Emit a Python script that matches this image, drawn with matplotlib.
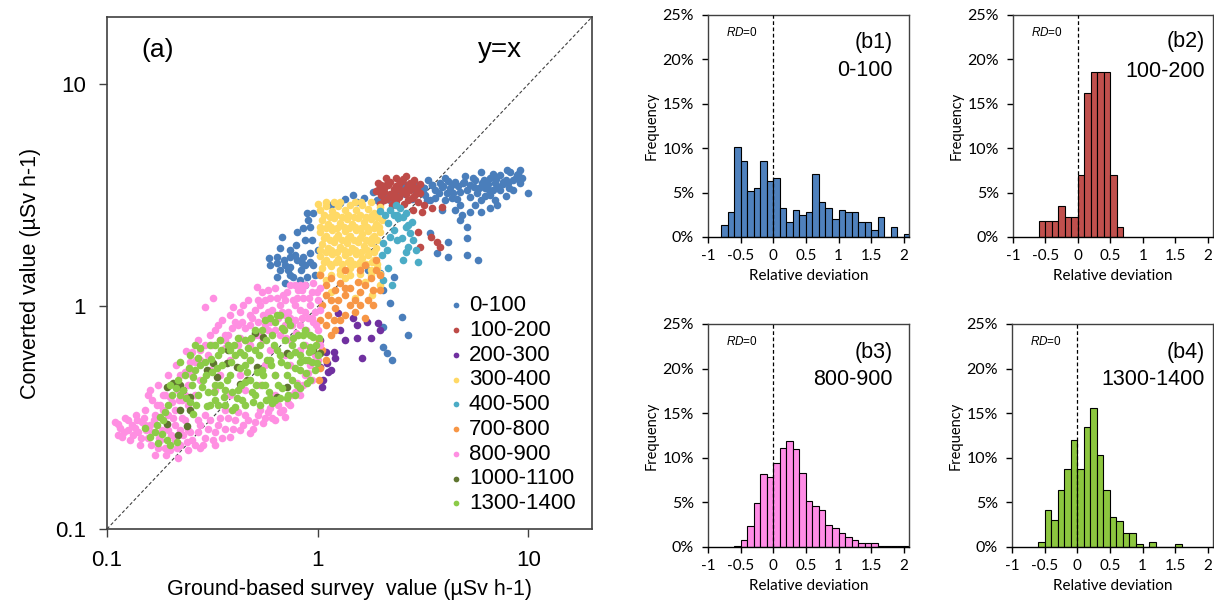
import matplotlib
matplotlib.use("Agg")
import matplotlib.pyplot as plt
from matplotlib.ticker import FixedLocator, NullLocator, FuncFormatter

plt.rcParams['font.family'] = ['Liberation Sans', 'DejaVu Sans']
plt.rcParams['mathtext.fontset'] = 'custom'
plt.rcParams['mathtext.it'] = 'Liberation Sans:italic'
plt.rcParams['mathtext.rm'] = 'Liberation Sans'

# ---- scatter (a): (ground-based, converted) in uSv/h ----
pts_0_100 = [(3.07,3.52),(3.35,3.70),(3.62,3.34),(3.82,3.60),(4.03,3.78),(4.26,3.41),(4.50,3.63),(4.75,3.27),
             (5.02,3.86),(5.30,3.52),(5.60,3.70),(5.92,4.02),(6.25,3.41),(6.60,3.78),(6.97,3.60),(7.36,3.90),
             (7.78,3.70),(8.21,4.02),(8.68,3.78),(9.16,3.60),(7.36,3.34),(6.60,3.17),(5.30,3.11),(5.92,3.01),
             (4.75,2.86),(4.50,2.72),(4.03,3.01),(3.62,3.07),(3.24,3.17),(2.91,3.27),(2.75,3.41),(2.61,3.52),
             (2.47,3.34),(2.34,3.24),(5.30,2.66),(4.85,2.58),(9.16,4.11),(10.0,3.24),(8.40,3.34),(7.78,3.14),
             (3.2,3.4),(3.5,3.5),(3.9,3.45),(4.4,3.55),(4.9,3.6),(5.5,3.45),(6.0,3.6),(6.4,3.55),(7.0,3.75),
             (7.6,3.55),(8.0,3.6),(8.9,3.95),(4.1,3.25),(5.7,3.25),(6.8,3.35),(3.3,3.0),(4.6,3.05),(2.8,3.05),(2.6,3.2),
             (3.18,3.41),(3.50,3.52),(3.75,3.24),(3.95,3.48),(4.17,3.67),(4.40,3.24),(4.65,3.48),(4.92,3.63),
             (5.10,3.34),(5.48,3.78),(5.80,3.41),(6.12,3.70),(6.47,3.34),(6.80,3.95),(7.12,3.48),(7.61,3.63),
             (7.94,4.11),(8.40,3.70),(8.86,3.90),(9.36,3.78),(8.05,3.41),(6.97,3.01),(6.25,3.14),(5.60,2.86),
             (4.35,3.07),(3.90,2.72),(3.42,3.01),(2.91,3.52),
             (4.75,2.45),(5.10,2.28),(5.10,2.03),(5.10,1.70),(5.75,1.62),(4.17,1.67),(3.70,1.74),(4.17,1.95),
             (3.42,2.14),(5.92,2.66),(6.60,2.77),(7.12,2.86),
             (1.28,2.92),(1.47,3.17),(1.65,3.07),(1.83,3.27),(1.92,3.01),(1.54,2.95),(1.35,3.04),(1.15,2.86),
             (2.09,3.14),(2.34,3.34),(2.47,3.48),(2.21,3.01),
             (0.89,2.63),(0.95,2.63),(0.90,2.45),(0.85,2.25),(0.68,2.05),(0.64,1.67),(0.69,1.62),(0.74,1.80),
             (0.80,1.62),(0.85,1.67),(0.92,1.74),(0.74,1.51),(0.83,1.46),(0.64,1.36),(0.76,1.36),(0.89,1.36),
             (0.64,1.57),(0.74,1.67),(0.94,1.99),(0.92,2.28),(0.59,1.65),(0.72,1.46),(0.84,1.57),(0.95,1.54),
             (1.00,1.80),(0.66,1.83),(0.79,1.89),(0.70,1.27),(0.87,1.25),(0.97,1.39),
             (0.700,1.54),(0.782,1.70),(0.872,1.54),(0.663,1.46),(0.826,1.32),(0.740,1.39),(0.595,1.54),
             (0.921,1.59),(0.872,1.99),(0.80,2.16),
             (2.05,1.19),(2.21,1.04),(2.52,0.90),(2.69,0.745),(2.05,0.81),(2.05,0.66),(2.26,0.575),(2.14,0.62),
             (2.29,1.36),(1.98,1.41),(1.74,1.46),(2.97,3.24)]

pts_100_200 = [(1.94,3.59),(2.07,3.41),(2.21,3.63),(2.36,3.48),(2.52,3.67),(2.69,3.52),(2.87,3.70),(3.07,3.55),
               (2.00,3.17),(2.14,3.04),(2.29,3.24),(2.44,3.11),(2.61,3.20),(2.80,3.07),(2.97,3.24),(1.98,2.89),
               (2.25,2.86),(2.58,2.89),(2.36,3.78),(2.63,3.86),(2.11,3.78),(3.00,2.95),(2.07,3.27),(2.75,3.34),
               (2.15,3.5),(2.45,3.35),(2.75,3.6),(2.3,3.05),(2.9,3.4),(1.9,3.3),(2.55,3.75),(2.0,3.5),
               (2.00,3.41),(2.14,3.55),(2.29,3.37),(2.44,3.55),(2.61,3.37),(2.80,3.55),(2.97,3.41),(2.07,3.01),
               (2.36,2.98),(2.69,3.01),(2.87,3.14),(2.52,3.27),(2.21,3.20),(1.94,3.34),(3.07,3.24),
               (2.83,2.72),(3.13,2.66),(3.50,2.77),(3.90,2.80),(3.00,2.17),(3.07,1.85),(3.70,1.95),(3.82,1.85),
               (3.46,2.05),(3.18,2.86)]

pts_200_300 = [(1.25,0.935),(1.47,0.888),(1.54,0.826),(1.72,0.852),(1.94,0.843),(1.28,0.784),(1.35,0.707),
               (1.54,0.722),(1.78,0.722),(1.63,0.587),(1.03,0.707),(1.09,0.625),(1.19,0.625),(1.03,0.535),
               (1.11,0.557),(1.15,0.518),(1.06,0.467),(1.05,0.434),(1.12,0.508),(1.21,0.587),(1.98,0.784)]

pts_300_400 = [(1.03,2.72),(1.10,2.83),(1.17,2.69),(1.25,2.83),(1.34,2.72),(1.43,2.86),(1.52,2.72),(1.63,2.86),
               (1.74,2.75),(1.85,2.63),(1.98,2.80),(1.0,2.9),(1.2,2.95),(1.6,2.95),
               (1.09,2.95),(1.28,2.95),(1.51,2.95),(1.78,2.95),
               (1.07,2.58),(1.14,2.53),(1.22,2.58),(1.30,2.53),(1.39,2.58),(1.48,2.53),(1.58,2.58),(1.69,2.53),
               (1.80,2.58),(1.92,2.53),
               (1.05,2.45),(1.12,2.35),(1.20,2.50),(1.28,2.37),(1.37,2.47),(1.45,2.35),(1.56,2.50),(1.66,2.40),
               (1.78,2.47),(1.89,2.35),(2.02,2.45),
               (1.02,2.28),(1.09,2.25),(1.16,2.28),(1.24,2.25),(1.33,2.28),(1.41,2.25),(1.51,2.28),(1.61,2.25),
               (1.72,2.28),(1.84,2.25),(1.96,2.28),
               (1.03,2.16),(1.10,2.07),(1.17,2.21),(1.25,2.10),(1.34,2.19),(1.43,2.07),(1.52,2.21),(1.63,2.12),
               (1.74,2.19),(1.85,2.07),(1.98,2.16),
               (1.07,2.03),(1.14,1.99),(1.22,2.03),(1.30,1.99),(1.39,2.03),(1.48,1.99),(1.58,2.03),(1.69,1.99),
               (1.80,2.03),(1.92,1.99),
               (1.05,1.91),(1.12,1.83),(1.20,1.95),(1.28,1.85),(1.37,1.93),(1.45,1.83),(1.56,1.95),(1.66,1.87),
               (1.78,1.93),(1.89,1.83),
               (1.02,1.80),(1.09,1.76),(1.16,1.80),(1.24,1.76),(1.33,1.80),(1.41,1.76),(1.51,1.80),(1.61,1.76),
               (1.72,1.80),(1.84,1.76),
               (1.03,1.69),(1.10,1.62),(1.17,1.72),(1.25,1.63),(1.34,1.70),(1.43,1.62),(1.52,1.72),(1.63,1.65),
               (1.74,1.70),(1.85,1.62),
               (1.07,1.59),(1.14,1.55),(1.22,1.59),(1.30,1.55),(1.39,1.59),(1.48,1.55),(1.58,1.59),(1.69,1.55),
               (1.80,1.59),(1.92,1.55),
               (1.05,1.49),(1.15,1.52),(1.28,1.46),(1.43,1.49),(1.59,1.52),(1.78,1.46),(1.91,1.49),
               (1.03,1.40),(1.15,1.38),(1.28,1.40),(1.43,1.38),(1.59,1.40),(1.78,1.38),(1.98,1.40),
               (1.09,1.32),(1.35,1.34),(1.68,1.29),(1.98,1.25),(1.80,1.13),(1.51,1.09),(1.15,1.16)]

pts_400_500 = [(1.98,2.69),(2.21,2.72),(2.47,2.78),(2.63,2.63),(2.41,2.50),(2.16,2.38),(2.29,2.21),(2.61,2.28),
               (2.80,2.40),(2.75,2.14),(2.52,2.03),(2.21,2.05),(2.05,1.93),(2.69,1.85),(2.91,1.80),(2.61,1.76),
               (3.00,1.59),(2.14,1.80),(2.02,1.70),(2.16,1.49),(2.26,1.25),(2.05,1.32),(2.39,2.58),(2.55,2.53),
               (2.34,2.86),(2.09,2.58),(2.29,2.58),(2.69,2.32),(2.39,1.99),(2.83,1.99),(2.55,1.62)]

pts_700_800 = [(1.03,1.39),(1.09,1.25),(1.15,1.34),(1.21,1.19),(1.28,1.27),(1.35,1.13),(1.43,1.21),(1.51,1.07),
               (1.59,1.16),(1.68,1.25),(1.78,1.34),(1.88,1.46),(1.98,1.39),(1.59,1.46),(1.35,1.46),(1.15,1.07),
               (1.05,1.02),(1.12,0.916),(1.21,0.985),(1.28,0.870),(1.09,0.826),(1.15,0.745),(1.35,0.916),
               (1.51,0.945),(1.68,0.888),(1.82,1.016),(1.98,1.19),(1.74,1.07),(1.03,0.870),(1.01,0.707),
               (1.05,0.638),(1.03,0.529),(1.01,0.467),(1.09,0.575),(1.21,0.784),(1.88,1.62),(1.68,1.54),
               (1.09,1.13),(1.25,1.07),(1.43,1.02),(1.59,1.02),(1.35,1.21),(1.19,0.870),(1.56,1.29),(1.82,1.19)]

pts_800_900 = [(0.109,0.303),(0.115,0.285),(0.113,0.265),(0.122,0.315),(0.126,0.279),(0.131,0.293),(0.129,0.251),
               (0.137,0.325),(0.140,0.273),(0.146,0.303),(0.144,0.239),(0.152,0.343),(0.156,0.256),(0.160,0.293),
               (0.164,0.380),(0.169,0.325),(0.175,0.231),(0.179,0.361),(0.182,0.279),(0.189,0.400),(0.195,0.325),
               (0.199,0.227),(0.204,0.372),(0.210,0.293),(0.217,0.421),(0.222,0.239),(0.191,0.215),(0.169,0.215),
               (0.235,0.508),(0.227,0.380),(0.243,0.444),(0.217,0.208),
               (0.118,0.258),(0.136,0.285),(0.152,0.293),(0.164,0.273),(0.179,0.251),(0.195,0.279),(0.210,0.343),
               (0.227,0.315),(0.243,0.361),(0.253,0.492),(0.264,0.575),(0.248,0.565),(0.237,0.630),
               (0.160,0.421),(0.175,0.444),(0.195,0.492),(0.212,0.546),(0.156,0.400),
               (0.113,0.296),(0.121,0.273),(0.126,0.309),(0.133,0.265),(0.139,0.309),(0.145,0.256),(0.150,0.315),
               (0.154,0.279),(0.162,0.239),(0.167,0.309),(0.173,0.361),(0.177,0.256),(0.184,0.343),(0.189,0.231),
               (0.193,0.297),(0.202,0.265),(0.206,0.315),(0.214,0.231),(0.219,0.380),(0.230,0.265),(0.235,0.400),
               (0.240,0.246),(0.184,0.400),(0.199,0.393),(0.222,0.492),
               (0.292,0.995),(0.319,1.092),(0.397,0.995),(0.516,1.224),(0.326,0.784),(0.352,0.870),(0.376,0.745),
               (0.406,0.852),(0.428,0.945),(0.452,0.800),(0.467,1.070),(0.488,0.888),(0.505,0.745),(0.533,1.016),
               (0.545,1.162),(0.563,0.826),(0.581,0.945),(0.595,1.092),(0.628,1.211),(0.650,0.888),(0.663,1.016),
               (0.685,1.126),(0.700,0.826),(0.724,0.945),(0.740,1.249),(0.765,1.070),(0.782,0.870),(0.808,1.186),
               (0.826,0.965),(0.853,1.092),(0.872,1.249),(0.902,0.888),(0.921,1.016),(0.942,1.162),(0.973,0.945),
               (1.006,1.070),(1.028,1.211),(0.984,0.826),(0.882,0.784),(0.790,0.760),(0.708,0.722),(0.551,0.707),
               (0.478,0.671),(0.419,0.671),(0.364,0.651),(0.315,0.671),(0.277,0.638),(0.262,0.564),(0.248,0.518),
               (0.271,0.707),(0.302,0.605),(0.344,0.707),
               (0.364,0.745),(0.393,0.800),(0.437,0.852),(0.522,0.852),(0.607,0.965),(0.700,1.070),(0.782,1.016),
               (0.844,0.888),(0.942,0.888),(0.826,1.249),(0.563,1.070),(0.505,0.965),(0.452,0.707),(0.628,0.784),
               (0.756,0.826),
               (0.309,0.745),(0.337,0.826),(0.384,0.916),(0.419,0.826),(0.443,1.016),(0.478,0.916),(0.522,1.070),
               (0.551,0.916),(0.581,1.186),(0.595,0.852),(0.642,1.092),(0.678,0.945),(0.716,1.162),(0.740,0.888),
               (0.795,1.092),(0.844,1.186),(0.872,0.945),(0.911,1.092),(0.953,1.275),(0.995,1.162),(1.028,0.965),
               (0.953,0.852),(0.826,0.826),(0.663,0.745),(0.581,0.784),(0.522,0.745),(0.428,0.722),(0.364,0.707),
               (0.292,0.671),(0.277,0.575),(0.253,0.625),(0.478,0.826),(0.700,0.916),(0.782,1.249),
               (0.235,0.309),(0.248,0.274),(0.262,0.239),(0.277,0.293),(0.292,0.257),(0.309,0.309),(0.326,0.274),
               (0.344,0.315),(0.364,0.282),(0.384,0.259),(0.406,0.309),(0.428,0.279),(0.452,0.325),(0.478,0.270),
               (0.505,0.303),(0.533,0.343),(0.551,0.300),(0.581,0.336),(0.607,0.315),(0.650,0.361),(0.700,0.318),
               (0.724,0.368),(0.756,0.400),(0.795,0.453),(0.826,0.400),(0.872,0.492),(0.921,0.546),(0.973,0.605),
               (1.028,0.671),(1.006,0.784),(0.222,0.279),(0.210,0.251),(0.243,0.227),(0.277,0.231),(0.326,0.239),
               (0.685,0.343),(0.628,0.400),
               (0.253,0.251),(0.271,0.274),(0.285,0.239),(0.302,0.282),(0.319,0.251),(0.337,0.293),(0.352,0.256),
               (0.376,0.315),(0.397,0.282),(0.419,0.336),(0.443,0.293),(0.467,0.309),(0.494,0.282),(0.522,0.325),
               (0.563,0.315),(0.595,0.350),(0.628,0.309),(0.663,0.336),(0.740,0.361),(0.782,0.413),(0.853,0.444),
               (0.902,0.502),(0.942,0.467),(1.006,0.575),(0.271,0.309),(0.243,0.279),(0.292,0.325),(0.364,0.343),
               (0.277,0.467),(0.326,0.421),(0.384,0.400),(0.452,0.421),(0.533,0.444),(0.628,0.492),(0.740,0.546),
               (0.826,0.638),(0.384,0.575),(0.478,0.575),(0.595,0.638),(0.740,0.707),(0.309,0.518),(0.262,0.400),
               (0.344,0.492),(0.428,0.492),(0.563,0.546),(0.700,0.605),(0.872,0.671)]

pts_1000_1100 = [(0.193,0.434),(0.206,0.453),(0.222,0.444),(0.230,0.421),(0.248,0.393),(0.222,0.343),(0.240,0.290),
                 (0.217,0.265),(0.298,0.518),(0.319,0.557),(0.371,0.557),(0.414,0.536),(0.462,0.467),(0.516,0.536),
                 (0.551,0.729),(0.505,0.760),(0.642,0.393),(0.428,0.449),(0.376,0.638),(0.333,0.483),(0.248,0.343),
                 (0.953,0.638),(1.028,0.619),(0.716,0.434),(0.193,0.297),(0.716,0.619)]

pts_1300_1400 = [(0.222,0.564),(0.235,0.492),(0.248,0.605),(0.253,0.444),(0.262,0.518),(0.271,0.400),(0.277,0.651),
                 (0.285,0.467),(0.292,0.564),(0.302,0.413),(0.309,0.671),(0.315,0.508),(0.326,0.380),(0.337,0.605),
                 (0.344,0.444),(0.352,0.546),(0.364,0.361),(0.376,0.671),(0.384,0.492),(0.393,0.413),(0.406,0.605),
                 (0.419,0.722),(0.428,0.529),(0.437,0.380),(0.452,0.458),(0.467,0.651),(0.478,0.575),(0.488,0.413),
                 (0.505,0.784),(0.516,0.508),(0.533,0.671),(0.545,0.444),(0.563,0.870),(0.575,0.575),(0.595,0.388),
                 (0.607,0.745),(0.628,0.492),(0.642,0.638),(0.663,0.916),(0.678,0.430),(0.700,0.707),(0.716,0.546),
                 (0.740,0.826),(0.756,0.467),(0.782,0.625),(0.808,0.745),(0.826,0.518),(0.853,0.671),(0.872,0.784),
                 (0.902,0.575),(0.921,0.658),(0.953,0.729),(0.973,0.518),(1.006,0.605),(0.724,0.400),(0.628,0.380),
                 (0.533,0.361),(0.406,0.354),(0.309,0.361),(0.248,0.372),(0.230,0.421),(0.217,0.467),(0.204,0.400),
                 (0.199,0.444),(0.195,0.361),(0.189,0.336),(0.179,0.318),(0.173,0.293),(0.182,0.267),(0.175,0.243),
                 (0.152,0.285),(0.160,0.259),(0.193,0.251),(0.199,0.239),(0.214,0.246),(0.169,0.273),(0.184,0.309),
                 (0.256,0.330),(0.298,0.357),(0.393,0.343),(0.607,0.368),(0.716,0.388),(0.826,0.430),(0.892,0.453),
                 (0.995,0.557),(0.344,0.707),(0.452,0.707),
                 (0.277,0.546),(0.326,0.444),(0.364,0.421),(0.419,0.421),(0.478,0.467),(0.545,0.518),(0.595,0.575),
                 (0.663,0.605),(0.756,0.671),(0.826,0.605),(0.505,0.400),(0.563,0.444),(0.452,0.546),(0.384,0.638),
                 (0.678,0.800),(0.782,0.529),(0.872,0.575),(0.942,0.638),(0.642,0.916),
                 (0.245,0.529),(0.256,0.480),(0.269,0.587),(0.282,0.434),(0.295,0.492),(0.312,0.581),(0.322,0.413),
                 (0.333,0.529),(0.348,0.638),(0.360,0.393),(0.371,0.467),(0.388,0.564),(0.401,0.671),(0.414,0.388),
                 (0.432,0.444),(0.448,0.605),(0.462,0.508),(0.483,0.722),(0.494,0.372),(0.511,0.444),(0.527,0.605),
                 (0.551,0.492),(0.569,0.707),(0.588,0.413),(0.601,0.546),(0.621,0.671),(0.650,0.444),(0.670,0.564),
                 (0.693,0.784),(0.716,0.492),(0.740,0.605),(0.765,0.722),(0.795,0.444),(0.826,0.564),(0.853,0.745),
                 (0.882,0.502),(0.911,0.625),(0.942,0.564),(0.984,0.671),(1.017,0.722),(0.222,0.400),(0.212,0.430),
                 (0.237,0.388),(0.264,0.361),(0.337,0.361),(0.452,0.361),(0.569,0.380),(0.663,0.388),(0.782,0.400),
                 (0.921,0.467),(0.326,0.671),(0.262,0.671),(0.545,0.784),(0.628,0.852),(0.724,0.870),(0.595,0.888),
                 (0.921,0.745),(0.505,0.638),(0.428,0.625)]

range_labels = ['0-100', '100-200', '200-300', '300-400', '400-500',
                '700-800', '800-900', '1000-1100', '1300-1400']
point_sets = [pts_0_100, pts_100_200, pts_200_300, pts_300_400, pts_400_500,
              pts_700_800, pts_800_900, pts_1000_1100, pts_1300_1400]
range_colors = ['#4A7EBB', '#BE4B48', '#7030A0', '#FFD966', '#4BACC6',
                '#F79646', '#FF8FE2', '#5F7530', '#8CCB48']

# ---- histograms (b1-b4): bin left edges and frequency (%) ----
b1_bins = [-0.8, -0.7, -0.6, -0.5, -0.4, -0.3, -0.2, -0.1, 0.0, 0.1, 0.2, 0.3, 0.4, 0.5, 0.6,
           0.7, 0.8, 0.9, 1.0, 1.1, 1.2, 1.3, 1.4, 1.5, 1.6, 1.7, 1.8, 1.9, 2.0]
b1_freq = [1.4, 2.8, 10.1, 8.5, 5.2, 5.5, 8.5, 6.3, 6.6, 3.3, 1.7, 3.0, 2.5, 2.8, 7.1,
           3.9, 3.3, 2.0, 3.0, 2.8, 2.8, 1.7, 1.7, 0.8, 2.2, 0.0, 1.1, 0.0, 0.3]

b2_bins = [-0.6, -0.5, -0.4, -0.3, -0.2, -0.1, 0.0, 0.1, 0.2, 0.3, 0.4, 0.5, 0.6]
b2_freq = [1.8, 1.8, 1.8, 3.5, 2.3, 2.3, 7.0, 16.2, 18.6, 18.6, 18.6, 7.0, 1.1]

b3_bins = [-0.6, -0.5, -0.4, -0.3, -0.2, -0.1, 0.0, 0.1, 0.2, 0.3, 0.4, 0.5, 0.6, 0.7,
           0.8, 0.9, 1.0, 1.1, 1.2, 1.3, 1.4, 1.5, 1.6, 1.7, 1.8, 1.9, 2.0]
b3_freq = [0.1, 0.8, 2.4, 4.9, 8.2, 7.9, 9.4, 11.1, 11.9, 11.0, 8.3, 5.1, 4.6, 4.1,
           2.5, 2.1, 1.6, 1.1, 0.8, 0.45, 0.45, 0.4, 0.15, 0.15, 0.1, 0.1, 0.15]

b4_bins = [-0.6, -0.5, -0.4, -0.3, -0.2, -0.1, 0.0, 0.1, 0.2, 0.3, 0.4, 0.5, 0.6, 0.7,
           0.8, 0.9, 1.0, 1.1, 1.2, 1.3, 1.4, 1.5]
b4_freq = [0.56, 4.2, 3.0, 6.4, 8.7, 12.0, 8.7, 13.5, 15.6, 10.3, 6.4, 3.4, 2.9, 1.6,
           1.6, 0.3, 0.0, 0.56, 0.0, 0.0, 0.0, 0.3]

rd_ticks = [-1, -0.5, 0, 0.5, 1, 1.5, 2]
rd_ticklabels = ['-1', '-0.5', '0', '0.5', '1', '1.5', '2']


fig = plt.figure(figsize=(12.14, 6.03), dpi=100)

# ---------------- panel (a) ----------------
ax = fig.add_axes([0.0881, 0.1227, 0.3995, 0.8491])
ax.set_xscale('log')
ax.set_yscale('log')
ax.set_xlim(0.1, 20)
ax.set_ylim(0.1, 20)
ax.plot([0.1, 20], [0.1, 20], ls=(0, (3, 2)), lw=0.8, color='#404040', zorder=1)
for lab, pts, col in zip(range_labels, point_sets, range_colors):
    xs = [p[0] for p in pts]
    ys = [p[1] for p in pts]
    ax.scatter(xs, ys, s=30, color=col, linewidths=0, label=lab, zorder=2)

for axis in (ax.xaxis, ax.yaxis):
    axis.set_major_locator(FixedLocator([0.1, 1, 10]))
    axis.set_minor_locator(NullLocator())
    axis.set_major_formatter(FuncFormatter(lambda v, _: '%g' % v))
ax.tick_params(direction='out', length=6, width=1, labelsize=16, pad=9, color='#404040')
for sp in ax.spines.values():
    sp.set_color('#404040')
    sp.set_linewidth(1.2)
ax.set_xlabel('Ground-based survey  value (\u00b5Sv h-1)', fontsize=15.5, labelpad=6)
ax.set_ylabel('Converted value (\u00b5Sv h-1)', fontsize=15.5, labelpad=10)
ax.text(0.07, 0.935, '(a)', transform=ax.transAxes, fontsize=19, va='center')
ax.text(0.765, 0.935, 'y=x', transform=ax.transAxes, fontsize=20, va='center')
leg = ax.legend(loc='upper left', bbox_to_anchor=(0.705, 0.457), frameon=False, fontsize=16,
                markerscale=0.75, handlelength=0.6, handletextpad=0.3, labelspacing=0.17,
                borderaxespad=0, borderpad=0)

# ---------------- panels (b1-b4) ----------------
hist_font = ['Lato', 'DejaVu Sans']
panels = [
    ([0.5832, 0.6070, 0.1656, 0.3682], b1_bins, b1_freq, '#4F81BD', '(b1)', '0-100', 0.92, 0.874, 0.752),
    ([0.8344, 0.6070, 0.1647, 0.3682], b2_bins, b2_freq, '#C0504D', '(b2)', '100-200', 0.96, 0.88, 0.745),
    ([0.5832, 0.0929, 0.1656, 0.3698], b3_bins, b3_freq, '#FF8CE6', '(b3)', '800-900', 0.92, 0.87, 0.75),
    ([0.8336, 0.0929, 0.1656, 0.3698], b4_bins, b4_freq, '#8CC63F', '(b4)', '1300-1400', 0.96, 0.87, 0.75),
]
for rect, bins, freq, col, tag, rng, tx, ty1, ty2 in panels:
    hx = fig.add_axes(rect)
    hx.bar(bins, freq, width=0.1, align='edge', color=col, edgecolor='black', linewidth=0.8, zorder=2)
    hx.set_xlim(-1, 2.08)
    hx.set_ylim(0, 25)
    hx.axvline(0, ls=(0, (3, 2)), lw=0.9, color='black', zorder=3)
    hx.set_xticks(rd_ticks)
    hx.set_xticklabels(rd_ticklabels, family=hist_font, fontsize=11)
    hx.set_yticks([0, 5, 10, 15, 20, 25])
    hx.set_yticklabels(['%d%%' % v for v in [0, 5, 10, 15, 20, 25]], family=hist_font, fontsize=11.5)
    hx.tick_params(direction='out', length=4, width=1, pad=5)
    hx.tick_params(axis='y', pad=6)
    for sp in hx.spines.values():
        sp.set_color('#404040')
        sp.set_linewidth(1.0)
    hx.spines['bottom'].set_color('black')
    hx.set_xlabel('Relative deviation', family=hist_font, fontsize=11, labelpad=4)
    hx.set_ylabel('Frequency', family=hist_font, fontsize=10.5, labelpad=3)
    hx.text(-0.72, 23.0, r'$\mathit{RD}$=0', fontsize=8.5, va='center', ha='left')
    hx.text(tx, ty1, tag, transform=hx.transAxes, fontsize=15.5, ha='right', va='center')
    hx.text(tx, ty2, rng, transform=hx.transAxes, fontsize=15.5, ha='right', va='center')

fig.savefig('out.png', dpi=100)
